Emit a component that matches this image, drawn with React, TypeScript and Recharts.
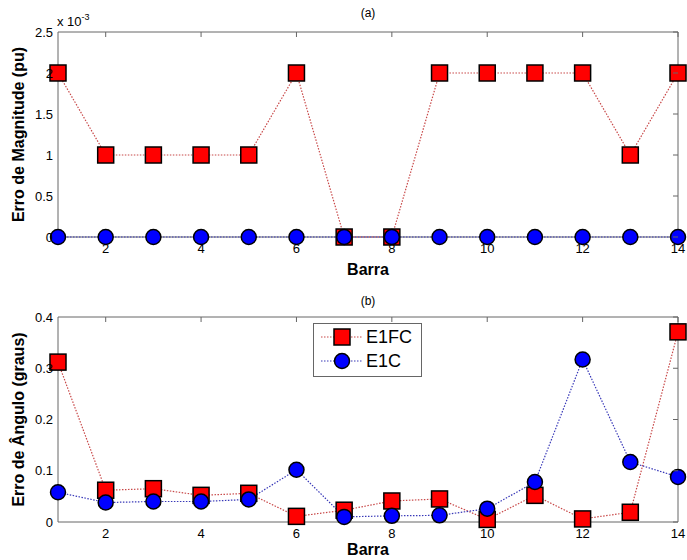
import { LineChart, Line, XAxis, YAxis, ReferenceArea, Legend } from "recharts";

// bus numbers
const barras = [1, 2, 3, 4, 5, 6, 7, 8, 9, 10, 11, 12, 13, 14];

// (a) magnitude error, pu
const magE1FC = [0.002, 0.001, 0.001, 0.001, 0.001, 0.002, 0, 0, 0.002, 0.002, 0.002, 0.002, 0.001, 0.002];
const magE1C = [0, 0, 0, 0, 0, 0, 0, 0, 0, 0, 0, 0, 0, 0];

// (b) angle error, degrees
const angE1FC = [0.312, 0.062, 0.065, 0.052, 0.056, 0.011, 0.023, 0.041, 0.045, 0.005, 0.052, 0.006, 0.019, 0.371];
const angE1C = [0.058, 0.038, 0.04, 0.04, 0.044, 0.102, 0.01, 0.012, 0.013, 0.026, 0.078, 0.317, 0.117, 0.088];

const xTicks = [2, 4, 6, 8, 10, 12, 14];
const magTicks = [0, 0.0005, 0.001, 0.0015, 0.002, 0.0025];
const angTicks = [0, 0.1, 0.2, 0.3, 0.4];

const W = 687;
const H = 280;
const LEFT = 58;
const RIGHT = 678;
const AXIS = "#666";

const magData = barras.map((b, i) => ({ barra: b, e1fc: magE1FC[i], e1c: magE1C[i] }));
const angData = barras.map((b, i) => ({ barra: b, e1fc: angE1FC[i], e1c: angE1C[i] }));

const Square = (props: any) => {
  const { cx, cy } = props;
  if (cx == null || cy == null) return null;
  return <rect x={cx - 8} y={cy - 8} width={16} height={16} fill="#ff0000" stroke="#000" strokeWidth={1.5} />;
};

const Circle = (props: any) => {
  const { cx, cy } = props;
  if (cx == null || cy == null) return null;
  return <circle cx={cx} cy={cy} r={7.5} fill="#0000ff" stroke="#000" strokeWidth={1.5} />;
};

const series = [
  { key: "e1fc", name: "E1FC", color: "#c84848", dot: Square },
  { key: "e1c", name: "E1C", color: "#3838b8", dot: Circle },
];

// inward ticks on the top and right edges of the box (bottom/left ones are hidden under the markers)
const XTick = (props: any) => {
  const { x, y, payload, plotTop } = props;
  return (
    <g>
      <line x1={x} x2={x} y1={plotTop} y2={plotTop + 5} stroke={AXIS} />
      <text x={x} y={y + 16} textAnchor="middle" fontSize={13} fill="#000">
        {payload.value}
      </text>
    </g>
  );
};

const YTick = (props: any) => {
  const { x, y, payload, fmt } = props;
  return (
    <g>
      <line x1={RIGHT} x2={RIGHT - 5} y1={y} y2={y} stroke={AXIS} />
      <text x={x - 5} y={y} dy="0.35em" textAnchor="end" fontSize={13} fill="#000">
        {fmt(payload.value)}
      </text>
    </g>
  );
};

const LegendBox = () => (
  <svg width={110} height={55} style={{ display: "block" }}>
    <rect x={0.5} y={0.5} width={108} height={53} fill="#fff" stroke={AXIS} />
    {series.map((s, i) => {
      const cy = 14 + i * 24;
      const Dot = s.dot;
      return (
        <g key={s.key}>
          <line x1={8} x2={49} y1={cy} y2={cy} stroke={s.color} strokeWidth={1.2} strokeDasharray="1.5 1.5" />
          <Dot cx={29} cy={cy} />
          <text x={53} y={cy} dy="0.35em" fontSize={18} fill="#000">
            {s.name}
          </text>
        </g>
      );
    })}
  </svg>
);

interface PanelProps {
  data: any[];
  yTicks: number[];
  yMax: number;
  fmt: (v: number) => string;
  ylabel: string;
  top: number;
  xHeight: number;
  legend?: boolean;
}

function Panel({ data, yTicks, yMax, fmt, ylabel, top, xHeight, legend }: PanelProps) {
  return (
    <LineChart width={W} height={H} data={data} margin={{ top, right: W - RIGHT, bottom: 0, left: 0 }}>
      <ReferenceArea x1={1} x2={14} y1={0} y2={yMax} fill="none" stroke={AXIS} strokeWidth={1} />
      <XAxis
        dataKey="barra"
        type="number"
        domain={[1, 14]}
        ticks={xTicks}
        height={xHeight}
        axisLine={false}
        tickLine={false}
        tickSize={0}
        tickMargin={0}
        tick={<XTick plotTop={top} />}
        label={{ value: "Barra", position: "insideBottom", offset: 5, style: { fontWeight: "bold", fontSize: 16, fill: "#000" } }}
      />
      <YAxis
        type="number"
        domain={[0, yMax]}
        ticks={yTicks}
        width={LEFT}
        axisLine={false}
        tickLine={false}
        tickSize={0}
        tickMargin={0}
        tick={<YTick fmt={fmt} />}
        label={{
          value: ylabel,
          angle: -90,
          position: "insideLeft",
          offset: 18,
          style: { textAnchor: "middle", fontWeight: "bold", fontSize: 16, fill: "#000" },
        }}
      />
      {series.map((s) => (
        <Line
          key={s.key}
          dataKey={s.key}
          name={s.name}
          stroke={s.color}
          strokeWidth={1.2}
          strokeDasharray="1.5 1.5"
          dot={<s.dot />}
          activeDot={false}
          isAnimationActive={false}
        />
      ))}
      {legend && (
        <Legend
          layout="vertical"
          align="center"
          verticalAlign="middle"
          content={<LegendBox />}
          wrapperStyle={{ left: 313, top: 43, width: 110, height: 55 }}
        />
      )}
    </LineChart>
  );
}

export default function App() {
  const magFmt = (v: number) => String(parseFloat((v * 1000).toFixed(2)));
  const angFmt = (v: number) => String(v);
  return (
    <div
      style={{
        position: "absolute",
        left: 0,
        top: 0,
        width: W,
        height: 560,
        background: "#fff",
        fontFamily: "'Liberation Sans', Arial, sans-serif",
      }}
    >
      <div style={{ position: "absolute", left: 0, top: 0 }}>
        <Panel data={magData} yTicks={magTicks} yMax={0.0025} fmt={magFmt} ylabel="Erro de Magnitude (pu)" top={32} xHeight={43} />
      </div>
      <div style={{ position: "absolute", left: 0, top: 280 }}>
        <Panel data={angData} yTicks={angTicks} yMax={0.4} fmt={angFmt} ylabel="Erro de Ângulo (graus)" top={37} xHeight={38} legend />
      </div>
      <div style={{ position: "absolute", left: 57, top: 10, fontSize: 13, lineHeight: "14px" }}>
        x 10<sup style={{ fontSize: 9, verticalAlign: "6px" }}>-3</sup>
      </div>
      <div style={{ position: "absolute", left: 353, top: 6, width: 30, textAlign: "center", fontSize: 12 }}>(a)</div>
      <div style={{ position: "absolute", left: 353, top: 294, width: 30, textAlign: "center", fontSize: 12 }}>(b)</div>
    </div>
  );
}
